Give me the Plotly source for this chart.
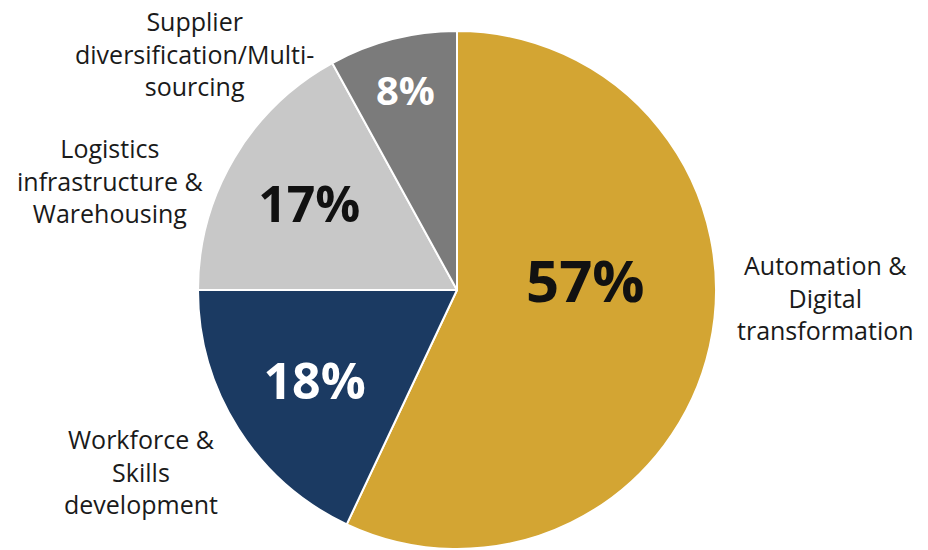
import plotly.graph_objects as go

# Share of investment focus areas
categories = [
    "Automation &<br>Digital<br>transformation",
    "Workforce &<br>Skills<br>development",
    "Logistics<br>infrastructure &<br>Warehousing",
    "Supplier<br>diversification/Multi-<br>sourcing",
]
shares = [57, 18, 17, 8]
slice_colors = ["#D3A533", "#1B3A62", "#C8C8C8", "#7B7B7B"]
pct_colors = ["#111111", "#FFFFFF", "#111111", "#FFFFFF"]
pct_sizes = [58, 50, 50, 40]

# Outside label placement (pixels): block centre
label_cx = [825, 141, 110, 194]
label_cy = [297, 471, 180, 54]

W, H = 928, 550
cx, cy, r = 457, 290, 259

fig = go.Figure(
    go.Pie(
        labels=categories,
        values=shares,
        sort=False,
        direction="clockwise",
        rotation=0,
        marker=dict(colors=slice_colors, line=dict(color="#FFFFFF", width=2)),
        # the large slice gets its own annotation below
        texttemplate=[""] + ["%{value}%"] * (len(shares) - 1),
        textposition="inside",
        insidetextorientation="horizontal",
        textfont=dict(family="Open Sans", size=pct_sizes, color=pct_colors, weight="bold"),
        showlegend=False,
        hoverinfo="label+percent",
        domain=dict(x=[(cx - r) / W, (cx + r) / W], y=[1 - (cy + r) / H, 1 - (cy - r) / H]),
    )
)

# value label of the largest slice
fig.add_annotation(
    text=f"{shares[0]}%",
    x=585 / W,
    y=1 - 279 / H,
    xref="paper",
    yref="paper",
    showarrow=False,
    xanchor="center",
    yanchor="middle",
    font=dict(family="Open Sans", size=pct_sizes[0], color=pct_colors[0], weight="bold"),
)

for name, x, y in zip(categories, label_cx, label_cy):
    fig.add_annotation(
        text=name,
        x=x / W,
        y=1 - y / H,
        xref="paper",
        yref="paper",
        showarrow=False,
        xanchor="center",
        yanchor="middle",
        align="center",
        font=dict(family="Open Sans", size=25, color="#1A1A1A"),
    )

fig.update_layout(
    width=W,
    height=H,
    margin=dict(l=0, r=0, t=0, b=0),
    paper_bgcolor="#FFFFFF",
    plot_bgcolor="#FFFFFF",
)

fig.write_html("out.html")
